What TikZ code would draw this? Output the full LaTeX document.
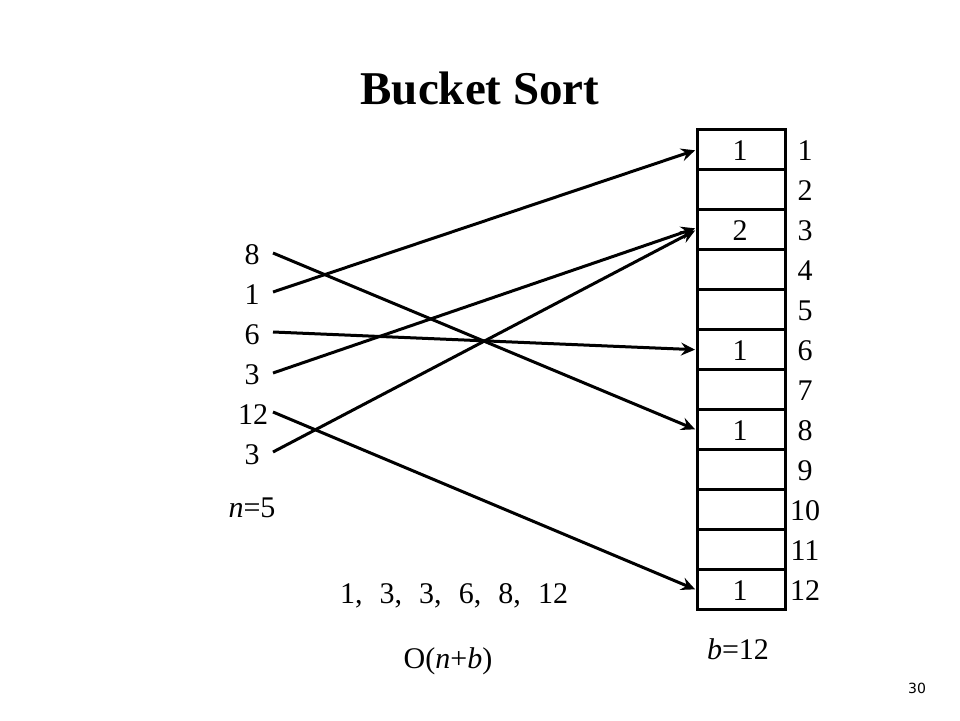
\documentclass[tikz,border=0pt]{standalone}
\usepackage{fontspec}
\setmainfont{Liberation Serif}
\newfontfamily\pagenumfont{DejaVu Sans}
\usetikzlibrary{arrows.meta}
\begin{document}
\begin{tikzpicture}[x=1pt,y=-1pt,
  txt/.style={font=\fontsize{30}{32}\selectfont, inner sep=0pt, anchor=base},
  cell/.style={draw, line width=3.4pt, minimum width=88pt, minimum height=40pt, inner sep=0pt, anchor=north west},
  conn/.style={line width=3pt, -{Stealth[length=14pt,width=13pt,inset=5pt]}, shorten >=1pt}]
\useasboundingbox (0,0) rectangle (960,720);
\fill[white] (0,0) rectangle (960,720);
% title
\node[anchor=base, inner sep=0pt, font=\fontsize{47}{50}\selectfont\bfseries] (title) at (480,104) {Bucket Sort};
% bucket cells
\foreach \i in {1,...,12} {
  \node[cell] (b\i) at (696,{128+40*(\i-1)}) {};
  \node[txt] (l\i) at (805,{160+40*(\i-1)}) {\i};
}
\node[txt] (c1) at (740,160) {1};
\node[txt] (c3) at (740,240) {2};
\node[txt] (c6) at (740,360) {1};
\node[txt] (c8) at (740,440) {1};
\node[txt] (c12) at (740,600) {1};
% input numbers
\node[txt] (n1) at (252,264) {8};
\node[txt] (n2) at (252,304) {1};
\node[txt] (n3) at (252,344) {6};
\node[txt] (n4) at (252,384) {3};
\node[txt] (n5) at (253,424) {12};
\node[txt] (n6) at (252,464) {3};
\coordinate (s1) at (273,253);
\coordinate (s2) at (273,292);
\coordinate (s3) at (273,332);
\coordinate (s4) at (273,373);
\coordinate (s5) at (273,412);
\coordinate (s6) at (273,452);
\coordinate (e1) at (696,150);
\coordinate (e3a) at (696,228);
\coordinate (e3b) at (696,230);
% connectors
\draw[conn] (s1) -- (b8.west);
\draw[conn] (s2) -- (e1);
\draw[conn] (s3) -- (b6.west);
\draw[conn] (s4) -- (e3a);
\draw[conn] (s5) -- (b12.west);
\draw[conn] (s6) -- (e3b);
% other labels
\node[txt] (nlab) at (252,517) {\textit{n}=5};
\node[txt] (sorted) at (454,603) {1,\hspace{0.57em}3,\hspace{0.57em}3,\hspace{0.57em}6,\hspace{0.57em}8,\hspace{0.57em}12};
\node[txt] (cplx) at (448,668) {O(\textit{n}+\textit{b})};
\node[txt] (blab) at (738,659) {\textit{b}=12};
\node[anchor=base, inner sep=0pt, font=\pagenumfont\fontsize{14}{16}\selectfont] (pg) at (917,693) {30};
\end{tikzpicture}
\end{document}
